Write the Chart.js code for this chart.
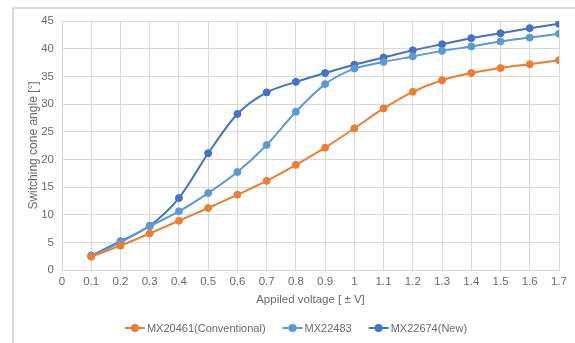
<!DOCTYPE html>
<html>
<head>
<meta charset="utf-8">
<script src="https://cdn.jsdelivr.net/npm/chart.js@4.4.0/dist/chart.umd.min.js"></script>
<style>
  html, body { margin: 0; padding: 0; background: #fff; }
  #wrap { position: relative; width: 575px; height: 343px; }
  canvas { display: block; }
</style>
</head>
<body>
<div id="wrap"><canvas id="c" width="575" height="343"></canvas></div>
<script>
const voltages = [0.1, 0.2, 0.3, 0.4, 0.5, 0.6, 0.7, 0.8, 0.9, 1.0, 1.1, 1.2, 1.3, 1.4, 1.5, 1.6, 1.7];
const mx20461 = [2.4, 4.4, 6.6, 8.9, 11.2, 13.6, 16.1, 19.0, 22.1, 25.6, 29.2, 32.2, 34.3, 35.6, 36.5, 37.2, 37.9];
const mx22483 = [2.5, 5.0, 7.9, 10.6, 13.9, 17.7, 22.6, 28.6, 33.6, 36.4, 37.6, 38.6, 39.6, 40.4, 41.3, 42.0, 42.7];
const mx22674 = [2.6, 5.2, 8.0, 13.0, 21.1, 28.2, 32.1, 34.0, 35.6, 37.1, 38.4, 39.7, 40.8, 41.9, 42.8, 43.7, 44.5];
const seriesNames = ['MX20461(Conventional)', 'MX22483', 'MX22674(New)'];
const seriesColors = ['#ED7D31', '#5B9BD5', '#4472C4'];
const xTicks = [0, 0.1, 0.2, 0.3, 0.4, 0.5, 0.6, 0.7, 0.8, 0.9, 1, 1.1, 1.2, 1.3, 1.4, 1.5, 1.6, 1.7];
const yTicks = [0, 5, 10, 15, 20, 25, 30, 35, 40, 45];
const xTitle = 'Appiled voltage [ \u00B1 V]';
const yTitle = 'Switching cone angle [\u00B0]';

const FONT = "'Liberation Sans', Arial, sans-serif";
const TXT = '#6a6a6a';
const GRID = '#D9D9D9';

function pts(vals) { return voltages.map((v, i) => ({ x: v, y: vals[i] })); }
const allVals = [mx20461, mx22483, mx22674];

const datasets = allVals.map((vals, i) => ({
  label: seriesNames[i],
  data: pts(vals),
  borderColor: seriesColors[i],
  backgroundColor: seriesColors[i],
  pointBackgroundColor: seriesColors[i],
  pointBorderColor: seriesColors[i],
  borderWidth: 2,
  pointRadius: 3.5,
  pointBorderWidth: 1,
  tension: 0.3,
  fill: false
}));

const frameAndLegend = {
  id: 'frameAndLegend',
  beforeDraw(chart) {
    const ctx = chart.ctx;
    ctx.save();
    ctx.strokeStyle = '#DCDCDC';
    ctx.lineWidth = 2;
    ctx.strokeRect(13, 8, 600, 400);
    ctx.restore();
  },
  afterDraw(chart) {
    const ctx = chart.ctx;
    ctx.save();
    ctx.font = '11px ' + FONT;
    ctx.textBaseline = 'middle';
    const lineLen = 20, gapText = 2, gapItem = 17;
    const widths = seriesNames.map(n => lineLen + gapText + ctx.measureText(n).width);
    const total = widths.reduce((a, b) => a + b, 0) + gapItem * (seriesNames.length - 1);
    let x = 296 - total / 2;
    const y = 328;
    seriesNames.forEach((n, i) => {
      ctx.strokeStyle = seriesColors[i];
      ctx.lineWidth = 2;
      ctx.beginPath();
      ctx.moveTo(x, y);
      ctx.lineTo(x + lineLen, y);
      ctx.stroke();
      ctx.fillStyle = seriesColors[i];
      ctx.beginPath();
      ctx.arc(x + lineLen / 2, y, 4, 0, Math.PI * 2);
      ctx.fill();
      ctx.fillStyle = TXT;
      ctx.textAlign = 'left';
      ctx.fillText(n, x + lineLen + gapText, y + 1);
      x += widths[i] + gapItem;
    });
    ctx.restore();
  }
};

new Chart(document.getElementById('c'), {
  type: 'line',
  data: { datasets },
  plugins: [frameAndLegend],
  options: {
    responsive: false,
    animation: false,
    layout: { padding: { left: 13, right: 16, top: 21, bottom: 28 } },
    plugins: { legend: { display: false }, tooltip: { enabled: false } },
    scales: {
      x: {
        type: 'linear',
        min: 0, max: 1.7,
        afterBuildTicks: (s) => { s.ticks = xTicks.map(v => ({ value: v })); },
        afterFit: (s) => { s.height = 45; },
        ticks: { color: TXT, font: { family: FONT, size: 11.5 }, padding: 5, maxRotation: 0, autoSkip: false,
                 callback: (v) => String(v) },
        grid: { color: GRID, lineWidth: 1, drawTicks: false },
        border: { color: GRID, width: 1 },
        title: { display: true, text: xTitle, color: TXT, font: { family: FONT, size: 11.5 }, padding: { top: 0, bottom: 8 } }
      },
      y: {
        min: 0, max: 45,
        afterBuildTicks: (s) => { s.ticks = yTicks.map(v => ({ value: v })); },
        afterFit: (s) => { s.width = 49; },
        ticks: { color: TXT, font: { family: FONT, size: 11.5 }, padding: 8 },
        grid: { color: GRID, lineWidth: 1, drawTicks: false },
        border: { color: GRID, width: 1 },
        title: { display: true, text: yTitle, color: TXT, font: { family: FONT, size: 12 }, padding: { top: 13, bottom: 0 } }
      }
    }
  }
});
</script>
</body>
</html>
